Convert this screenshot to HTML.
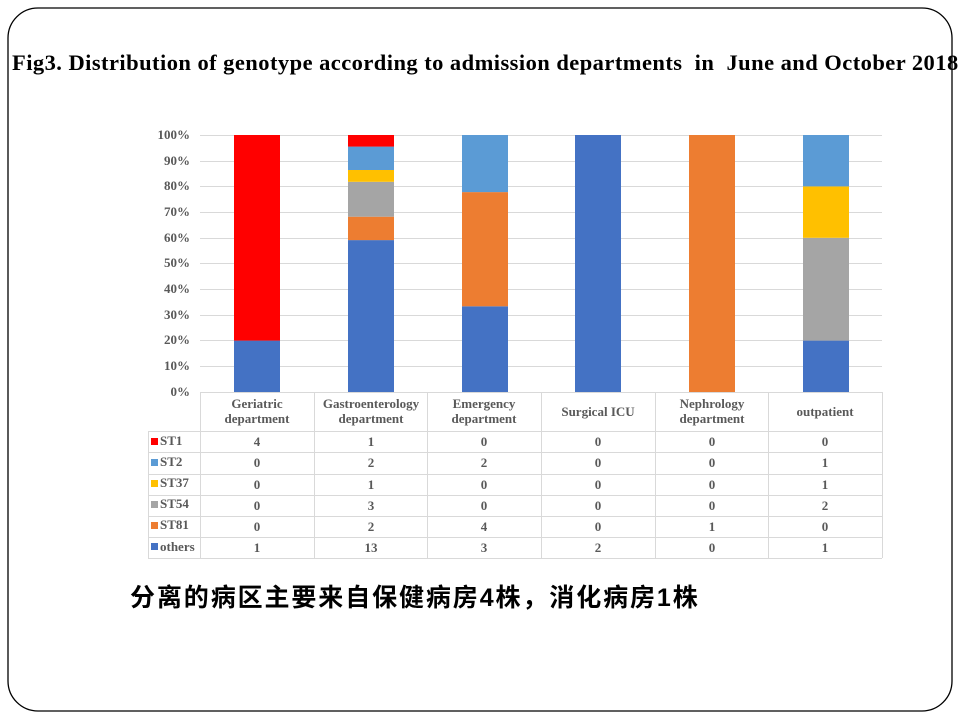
<!DOCTYPE html>
<html><head><meta charset="utf-8"><style>
html,body{margin:0;padding:0;background:#fff;width:960px;height:720px;overflow:hidden}
</style></head><body>
<svg width="960" height="720" xmlns="http://www.w3.org/2000/svg" font-family="Liberation Serif, serif">
<rect x="8" y="8" width="944" height="703" rx="30" ry="30" fill="none" stroke="#000" stroke-width="1.3"/>
<text x="12" y="70" font-size="22.5" font-weight="bold" fill="#000" style="white-space:pre" xml:space="preserve" letter-spacing="0.45">Fig3. Distribution of genotype according to admission departments  in  June and October 2018</text>
<g stroke="#d9d9d9" stroke-width="1">
<line x1="200" x2="882" y1="135.5" y2="135.5"/><line x1="200" x2="882" y1="161.5" y2="161.5"/>
<line x1="200" x2="882" y1="186.5" y2="186.5"/><line x1="200" x2="882" y1="212.5" y2="212.5"/>
<line x1="200" x2="882" y1="238.5" y2="238.5"/><line x1="200" x2="882" y1="263.5" y2="263.5"/>
<line x1="200" x2="882" y1="289.5" y2="289.5"/><line x1="200" x2="882" y1="315.5" y2="315.5"/>
<line x1="200" x2="882" y1="340.5" y2="340.5"/><line x1="200" x2="882" y1="366.5" y2="366.5"/>
<line x1="200" x2="882" y1="392.5" y2="392.5"/>
</g>
<g font-size="13" font-weight="bold" fill="#595959" text-anchor="end">
<text x="190" y="139">100%</text><text x="190" y="165">90%</text><text x="190" y="190">80%</text>
<text x="190" y="216">70%</text><text x="190" y="242">60%</text><text x="190" y="267">50%</text>
<text x="190" y="293">40%</text><text x="190" y="319">30%</text><text x="190" y="344">20%</text>
<text x="190" y="370">10%</text><text x="190" y="396">0%</text>
</g>
<g>
<rect x="234" y="340.6" width="46" height="51.4" fill="#4472C4"/>
<rect x="234" y="135" width="46" height="205.6" fill="#FF0000"/>

<rect x="348" y="240.1" width="46" height="151.9" fill="#4472C4"/>
<rect x="348" y="216.7" width="46" height="23.4" fill="#ED7D31"/>
<rect x="348" y="181.8" width="46" height="34.9" fill="#A5A5A5"/>
<rect x="348" y="170" width="46" height="11.8" fill="#FFC000"/>
<rect x="348" y="146.6" width="46" height="23.4" fill="#5B9BD5"/>
<rect x="348" y="135" width="46" height="11.6" fill="#FF0000"/>

<rect x="462" y="306.3" width="46" height="85.7" fill="#4472C4"/>
<rect x="462" y="192.1" width="46" height="114.2" fill="#ED7D31"/>
<rect x="462" y="135" width="46" height="57.1" fill="#5B9BD5"/>

<rect x="575" y="135" width="46" height="257" fill="#4472C4"/>
<rect x="689" y="135" width="46" height="257" fill="#ED7D31"/>

<rect x="803" y="340.6" width="46" height="51.4" fill="#4472C4"/>
<rect x="803" y="237.8" width="46" height="102.8" fill="#A5A5A5"/>
<rect x="803" y="186.4" width="46" height="51.4" fill="#FFC000"/>
<rect x="803" y="135" width="46" height="51.4" fill="#5B9BD5"/>
</g>
<g stroke="#d9d9d9" stroke-width="1" fill="none">
<line x1="200.5" x2="200.5" y1="392" y2="558"/>
<line x1="314.5" x2="314.5" y1="392" y2="558"/>
<line x1="427.5" x2="427.5" y1="392" y2="558"/>
<line x1="541.5" x2="541.5" y1="392" y2="558"/>
<line x1="655.5" x2="655.5" y1="392" y2="558"/>
<line x1="768.5" x2="768.5" y1="392" y2="558"/>
<line x1="882.5" x2="882.5" y1="392" y2="558"/>
<line x1="148.5" x2="148.5" y1="431" y2="558"/>
<line x1="148" x2="882" y1="431.5" y2="431.5"/>
<line x1="148" x2="882" y1="452.5" y2="452.5"/>
<line x1="148" x2="882" y1="474.5" y2="474.5"/>
<line x1="148" x2="882" y1="495.5" y2="495.5"/>
<line x1="148" x2="882" y1="516.5" y2="516.5"/>
<line x1="148" x2="882" y1="537.5" y2="537.5"/>
<line x1="148" x2="882" y1="558.5" y2="558.5"/>
</g>
<g font-size="13" font-weight="bold" fill="#595959" text-anchor="middle">
<text x="257" y="408">Geriatric</text><text x="257" y="423">department</text>
<text x="371" y="408">Gastroenterology</text><text x="371" y="423">department</text>
<text x="484" y="408">Emergency</text><text x="484" y="423">department</text>
<text x="598" y="416">Surgical ICU</text>
<text x="712" y="408">Nephrology</text><text x="712" y="423">department</text>
<text x="825" y="416">outpatient</text>
</g>
<g font-size="13" font-weight="bold" fill="#595959">
<rect x="151" y="438" width="7" height="7" fill="#FF0000"/><text x="160" y="445">ST1</text>
<rect x="151" y="459" width="7" height="7" fill="#5B9BD5"/><text x="160" y="466">ST2</text>
<rect x="151" y="480" width="7" height="7" fill="#FFC000"/><text x="160" y="487">ST37</text>
<rect x="151" y="501" width="7" height="7" fill="#A5A5A5"/><text x="160" y="508">ST54</text>
<rect x="151" y="522" width="7" height="7" fill="#ED7D31"/><text x="160" y="529">ST81</text>
<rect x="151" y="543" width="7" height="7" fill="#4472C4"/><text x="160" y="551">others</text>
</g>
<g font-size="13" font-weight="bold" fill="#595959" text-anchor="middle">
<text x="257" y="446">4</text><text x="371" y="446">1</text><text x="484" y="446">0</text><text x="598" y="446">0</text><text x="712" y="446">0</text><text x="825" y="446">0</text>
<text x="257" y="467">0</text><text x="371" y="467">2</text><text x="484" y="467">2</text><text x="598" y="467">0</text><text x="712" y="467">0</text><text x="825" y="467">1</text>
<text x="257" y="489">0</text><text x="371" y="489">1</text><text x="484" y="489">0</text><text x="598" y="489">0</text><text x="712" y="489">0</text><text x="825" y="489">1</text>
<text x="257" y="510">0</text><text x="371" y="510">3</text><text x="484" y="510">0</text><text x="598" y="510">0</text><text x="712" y="510">0</text><text x="825" y="510">2</text>
<text x="257" y="531">0</text><text x="371" y="531">2</text><text x="484" y="531">4</text><text x="598" y="531">0</text><text x="712" y="531">1</text><text x="825" y="531">0</text>
<text x="257" y="552">1</text><text x="371" y="552">13</text><text x="484" y="552">3</text><text x="598" y="552">2</text><text x="712" y="552">0</text><text x="825" y="552">1</text>
</g>
<text x="130" y="606" font-size="25" letter-spacing="1.9" font-weight="bold" fill="#000" font-family="Liberation Sans, Noto Sans CJK SC, sans-serif">分离的病区主要来自保健病房4株，消化病房1株</text>
</svg>
</body></html>
